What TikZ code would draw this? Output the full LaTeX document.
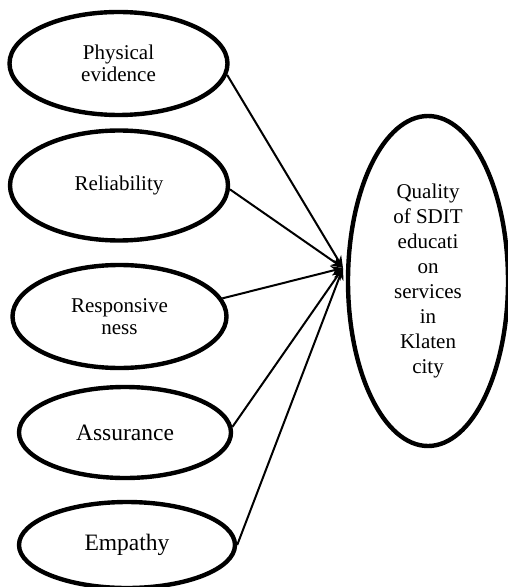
\documentclass[tikz,border=0pt]{standalone}
\usepackage{fontspec}
\setmainfont{Liberation Serif}
\usetikzlibrary{shapes.geometric,arrows.meta}
\begin{document}
\begin{tikzpicture}[x=0.5pt,y=-0.5pt,
		oval/.style={draw,ellipse,line width=2.2pt,inner sep=0pt,align=center,font=\fontsize{10.5}{11}\selectfont},
		link/.style={line width=1pt,-{Stealth[length=6pt,width=5pt]}}]
		\useasboundingbox (0,0) rectangle (507,587);
		\node[oval,minimum width=109pt,minimum height=51.5pt] (phys) at (118.5,63.5) {Physical\\evidence};
		\node[oval,minimum width=109pt,minimum height=55pt] (reli) at (119,185.5) {Reliability};
		\node[oval,minimum width=107pt,minimum height=51.5pt] (resp) at (119.5,316.5) {Responsive\\ness};
		\node[oval,minimum width=106pt,minimum height=45.5pt,font=\fontsize{11.75}{13}\selectfont] (assu) at (125,432.5) {Assurance};
		\node[oval,minimum width=108pt,minimum height=43pt,font=\fontsize{11.75}{13}\selectfont] (emp) at (127,545) {Empathy};
		\node[oval,minimum width=80pt,minimum height=165pt,font=\fontsize{10.5}{12.5}\selectfont] (qual) at (428,281) {Quality\\of SDIT\\educati\\on\\services\\in\\Klaten\\city};
		\coordinate (hub) at (343,268);
		\draw[link] (phys.-6) -- (hub);
		\draw[link] (reli.-2) -- (hub);
		\draw[link] (resp.10) -- (hub);
		\draw[link] (assu.3) -- (hub);
		\draw[link] (emp.east) -- (hub);
	\end{tikzpicture}
\end{document}
